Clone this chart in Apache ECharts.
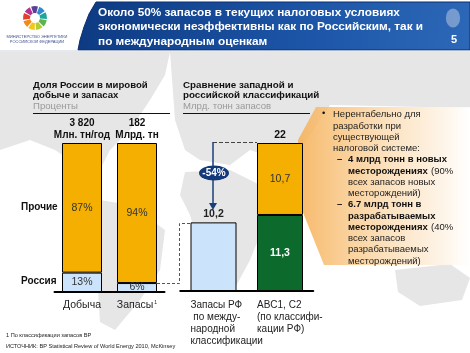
<!DOCTYPE html>
<html lang="ru">
<head>
    <meta charset="UTF-8">
    <title>Запасы и налоговые условия</title>
    <script src="https://cdn.jsdelivr.net/npm/echarts@6.0.0/dist/echarts.min.js"></script>
    <style>
        html, body { margin: 0; padding: 0; background: #fff; }
        #container { width: 470px; height: 353px; }
    </style>
</head>
<body>
<div id="container"></div>
<script>
    // левая панель: доля России, %
    var leftCats = ['Добыча', 'Запасы'];
    var leftTotals = ['3 820', '182'];
    var leftUnits = ['Млн. тн/год', 'Млрд. тн'];
    var russiaShare = [13, 6];
    var otherShare = [87, 94];

    // правая панель: млрд тонн запасов
    var rightCats = ['Запасы РФ\n по между-\nнародной\nклассификации', 'ABC1, C2\n(по классифи-\nкации РФ)'];
    var rightBase = [10.2, 11.3];
    var rightUnprofitable = [null, 10.7];
    var dropLabel = '-54%';

    var ORANGE = '#F5AF00', BLUE = '#CCE4FB', GREEN = '#0B6A2C', FONT = 'Liberation Sans, Arial, sans-serif';

    function fmt(v) { return String(v).replace('.', ','); }

    var dom = document.getElementById('container');
    var myChart = echarts.init(dom, null, { renderer: 'canvas' });

    // фон - карта мира, грубо
    var grey = '#e6e6e6';
    var mapShapes = [
        [[0, 52], [170, 52], [165, 75], [150, 100], [130, 130], [110, 150], [100, 170], [70, 160], [55, 150], [30, 140], [0, 150]],
        [[100, 200], [130, 205], [165, 230], [160, 270], [140, 300], [115, 330], [100, 322], [98, 290], [95, 250]],
        [[170, 52], [470, 52], [470, 108], [330, 105], [300, 150], [280, 160], [250, 150], [230, 165], [200, 160], [185, 150], [175, 120]],
        [[185, 172], [230, 170], [262, 186], [266, 220], [250, 260], [236, 286], [215, 286], [200, 250], [190, 215], [180, 195]],
        [[395, 270], [450, 264], [470, 278], [462, 300], [420, 306], [398, 292]]
    ];

    var graphics = [];
    mapShapes.forEach(function (p) {
        graphics.push({ type: 'polygon', z: -10, shape: { points: p }, style: { fill: grey } });
    });

    // шапка
    graphics.push({ type: 'rect', z: -5, shape: { x: 0, y: 0, width: 470, height: 51 }, style: { fill: '#fff' } });
    graphics.push({
        type: 'polygon', z: -4,
        shape: { points: [[96, 2], [470, 2], [470, 50], [78, 50], [80, 40], [84, 27], [89, 14]] },
        style: {
            fill: new echarts.graphic.LinearGradient(0, 0, 1, 1, [
                { offset: 0, color: '#0D3A82' }, { offset: 0.6, color: '#1D56A8' }, { offset: 1, color: '#2D68B8' }
            ]),
            stroke: '#0A2F6E', lineWidth: 1
        }
    });
    graphics.push({ type: 'line', z: -4, shape: { x1: 0, y1: 51, x2: 470, y2: 51 }, style: { stroke: '#c9d2e3', lineWidth: 1 } });
    graphics.push({
        type: 'text', z: 10, left: 98, top: 5,
        style: {
            text: 'Около 50% запасов в текущих налоговых условиях\nэкономически неэффективны как по Российским, так и\nпо международным оценкам',
            fill: '#fff', font: 'bold 11.8px ' + FONT, lineHeight: 14.5
        }
    });
    graphics.push({ type: 'text', z: 10, left: 451, top: 34, style: { text: '5', fill: '#fff', font: 'bold 11px ' + FONT } });
    graphics.push({ type: 'circle', z: 10, x: 453, y: 18, scaleX: 0.75, shape: { cx: 0, cy: 0, r: 9.5 }, style: { fill: 'rgba(210,220,235,0.45)' } });

    // логотип
    var ringColors = ['#2E8BD0', '#1BA89A', '#5DB548', '#B5CE2E', '#F2C71C', '#F08A1D', '#E2402B', '#B7338E', '#5B3F98'];
    ringColors.forEach(function (c, i) {
        var a = Math.PI * 2 / ringColors.length;
        graphics.push({
            type: 'sector', z: 10,
            shape: { cx: 35, cy: 18, r0: 5, r: 12, startAngle: i * a - 1.2, endAngle: (i + 1) * a - 1.2 - 0.12 },
            style: { fill: c }
        });
    });
    graphics.push({
        type: 'text', z: 10, x: 37, y: 34,
        style: { text: 'МИНИСТЕРСТВО ЭНЕРГЕТИКИ\nРОССИЙСКОЙ ФЕДЕРАЦИИ', fill: '#3C4F8C', font: '4px ' + FONT, align: 'center', lineHeight: 5 }
    });

    // заголовки панелей
    graphics.push({
        type: 'text', z: 10, left: 33, top: 80,
        style: { text: '{b|Доля России в мировой}\n{b|добыче и запасах}\n{g|Проценты}', lineHeight: 10.5,
            rich: { b: { font: 'bold 9.6px ' + FONT, fill: '#111' }, g: { font: '9.6px ' + FONT, fill: '#999' } } }
    });
    graphics.push({ type: 'line', z: 10, shape: { x1: 33, y1: 113.5, x2: 170, y2: 113.5 }, style: { stroke: '#111', lineWidth: 1 } });
    graphics.push({
        type: 'text', z: 10, left: 183, top: 80,
        style: { text: '{b|Сравнение западной и}\n{b|российской классификаций}\n{g|Млрд. тонн запасов}', lineHeight: 10.5,
            rich: { b: { font: 'bold 9.8px ' + FONT, fill: '#111' }, g: { font: '9.6px ' + FONT, fill: '#999' } } }
    });
    graphics.push({ type: 'line', z: 10, shape: { x1: 183, y1: 113.5, x2: 310, y2: 113.5 }, style: { stroke: '#111', lineWidth: 1 } });

    graphics.push({ type: 'text', z: 10, left: 21, top: 202, style: { text: 'Прочие', font: 'bold 10px ' + FONT, fill: '#111' } });
    graphics.push({ type: 'text', z: 10, left: 21, top: 276, style: { text: 'Россия', font: 'bold 10px ' + FONT, fill: '#111' } });

    // выноска
    graphics.push({
        type: 'polygon', z: -2,
        shape: { points: [[316, 107], [470, 107], [470, 265], [324, 265], [298, 200], [298, 140]] },
        style: {
            fill: new echarts.graphic.LinearGradient(0, 0, 1, 0, [
                { offset: 0, color: 'rgba(246,178,90,0.9)' }, { offset: 0.55, color: 'rgba(251,221,180,0.8)' }, { offset: 1, color: 'rgba(255,255,255,0.9)' }
            ])
        }
    });
    var callFont = { b: { font: 'bold 9.5px ' + FONT, fill: '#111' }, n: { font: '9.5px ' + FONT, fill: '#222' } };
    graphics.push({ type: 'text', z: 10, left: 322, top: 108, style: { text: '•', font: '9.5px ' + FONT, fill: '#111' } });
    graphics.push({
        type: 'text', z: 10, left: 333, top: 109,
        style: { text: '{n|Нерентабельно для}\n{n|разработки при}\n{n|существующей}\n{n|налоговой системе:}', lineHeight: 11.3, rich: callFont }
    });
    graphics.push({ type: 'text', z: 10, left: 337, top: 154, style: { text: '–', font: 'bold 9.5px ' + FONT, fill: '#111' } });
    graphics.push({
        type: 'text', z: 10, left: 348, top: 154,
        style: { text: '{b|4 млрд тонн в новых}\n{b|месторождениях} {n|(90%}\n{n|всех запасов новых}\n{n|месторождений)}', lineHeight: 11.3, rich: callFont }
    });
    graphics.push({ type: 'text', z: 10, left: 337, top: 199, style: { text: '–', font: 'bold 9.5px ' + FONT, fill: '#111' } });
    graphics.push({
        type: 'text', z: 10, left: 348, top: 199,
        style: { text: '{b|6.7 млрд тонн в}\n{b|разрабатываемых}\n{b|месторождениях} {n|(40%}\n{n|всех запасов}\n{n|разрабатываемых}\n{n|месторождений)}', lineHeight: 11.3, rich: callFont }
    });

    // стрелка и пунктиры
    graphics.push({ type: 'line', z: 10, shape: { x1: 213, y1: 142.5, x2: 257, y2: 142.5 }, style: { stroke: '#444', lineWidth: 1, lineDash: [4, 2] } });
    graphics.push({ type: 'line', z: 10, shape: { x1: 213, y1: 142, x2: 213, y2: 205 }, style: { stroke: '#1B3F7A', lineWidth: 1.5 } });
    graphics.push({ type: 'polygon', z: 10, shape: { points: [[209, 203], [217, 203], [213, 210]] }, style: { fill: '#1B3F7A' } });
    graphics.push({
        type: 'circle', z: 11, x: 214, y: 173, scaleX: 2, shape: { cx: 0, cy: 0, r: 7.5 },
        style: { fill: '#12397A' }
    });
    graphics.push({ type: 'text', z: 12, x: 214, y: 173, style: { text: dropLabel, fill: '#fff', font: 'bold 10px ' + FONT, align: 'center', verticalAlign: 'middle' } });
    graphics.push({
        type: 'polyline', z: 10,
        shape: { points: [[157, 283.5], [179.5, 283.5], [179.5, 223.5], [190, 223.5]] },
        style: { stroke: '#555', lineWidth: 1, lineDash: [3, 2], fill: null }
    });

    // сноски
    graphics.push({
        type: 'text', z: 10, left: 6, top: 330,
        style: { text: '1 По классификации запасов BP\nИСТОЧНИК: BP Statistical Review of World Energy 2010, McKinsey', font: '5.6px ' + FONT, fill: '#222', lineHeight: 11 }
    });

    var barStyle = function (c) { return { color: c, borderColor: '#000', borderWidth: 1 }; };

    option = {
        animation: false,
        backgroundColor: '#fff',
        textStyle: { fontFamily: FONT },
        grid: [
            { left: 54.5, top: 143, width: 110, height: 149 },
            { left: 180.25, top: 143, width: 133, height: 148 }
        ],
        xAxis: [
            {
                type: 'category', gridIndex: 0, data: leftCats,
                axisLine: { lineStyle: { color: '#000', width: 2 } }, axisTick: { show: false },
                axisLabel: {
                    interval: 0, margin: 8, color: '#222', fontSize: 10.5,
                    formatter: function (v, i) { return i === 1 ? v + '{sup|1}' : v; },
                    rich: { sup: { fontSize: 5, verticalAlign: 'top', padding: [0, 0, 6, 1] } }
                }
            },
            {
                type: 'category', gridIndex: 0, position: 'top', data: leftCats,
                axisLine: { show: false }, axisTick: { show: false },
                axisLabel: {
                    interval: 0, margin: 1.5, color: '#111', fontSize: 10, fontWeight: 'bold', lineHeight: 12,
                    formatter: function (v, i) { return leftTotals[i] + '\n' + leftUnits[i]; }
                }
            },
            {
                type: 'category', gridIndex: 1, data: rightCats,
                axisLine: { lineStyle: { color: '#000', width: 2 } }, axisTick: { show: false },
                axisLabel: {
                    interval: 0, margin: 8, color: '#222', fontSize: 10, lineHeight: 12, align: 'left',
                    padding: [0, 0, 0, -23]
                }
            }
        ],
        yAxis: [
            { type: 'value', gridIndex: 0, min: 0, max: 100, show: false },
            { type: 'value', gridIndex: 1, min: 0, max: 22, show: false }
        ],
        series: [
            {
                name: 'Россия', type: 'bar', xAxisIndex: 0, yAxisIndex: 0, stack: 'l', barWidth: 40,
                itemStyle: barStyle(BLUE),
                label: { show: true, position: 'inside', formatter: '{c}%', color: '#333', fontSize: 10.5 },
                data: russiaShare
            },
            {
                name: 'Прочие', type: 'bar', xAxisIndex: 0, yAxisIndex: 0, stack: 'l', barWidth: 40,
                itemStyle: barStyle(ORANGE),
                label: { show: true, position: 'inside', formatter: '{c}%', color: '#333', fontSize: 10.5 },
                data: otherShare
            },
            {
                name: 'Рентабельные', type: 'bar', xAxisIndex: 2, yAxisIndex: 1, stack: 'r', barWidth: 46,
                itemStyle: barStyle(GREEN),
                data: rightBase.map(function (v, i) {
                    return i === 0
                        ? { value: v, itemStyle: barStyle(BLUE), label: { show: true, position: 'top', distance: 3, color: '#222', fontWeight: 'bold', fontSize: 10.5, formatter: fmt(v) } }
                        : { value: v, label: { show: true, position: 'inside', color: '#fff', fontWeight: 'bold', fontSize: 10.5, formatter: fmt(v) } };
                })
            },
            {
                name: 'Нерентабельные', type: 'bar', xAxisIndex: 2, yAxisIndex: 1, stack: 'r', barWidth: 46,
                itemStyle: barStyle(ORANGE),
                label: { show: true, position: 'inside', color: '#333', fontSize: 10.5, formatter: function (p) { return fmt(p.value); } },
                data: rightUnprofitable
            },
            {
                name: 'Итого', type: 'bar', xAxisIndex: 2, yAxisIndex: 1, stack: 'r', barWidth: 46,
                itemStyle: { color: 'transparent', borderWidth: 0 },
                label: {
                    show: true, position: 'top', distance: 2, color: '#111', fontWeight: 'bold', fontSize: 10.5,
                    formatter: function (p) { return fmt(Math.round((rightBase[p.dataIndex] + rightUnprofitable[p.dataIndex]) * 10) / 10); }
                },
                data: rightUnprofitable.map(function (v) { return v == null ? null : 0; })
            }
        ],
        graphic: { elements: graphics }
    };

    if (option && typeof option === 'object') {
        myChart.setOption(option, true);
    }
</script>
</body>
</html>
